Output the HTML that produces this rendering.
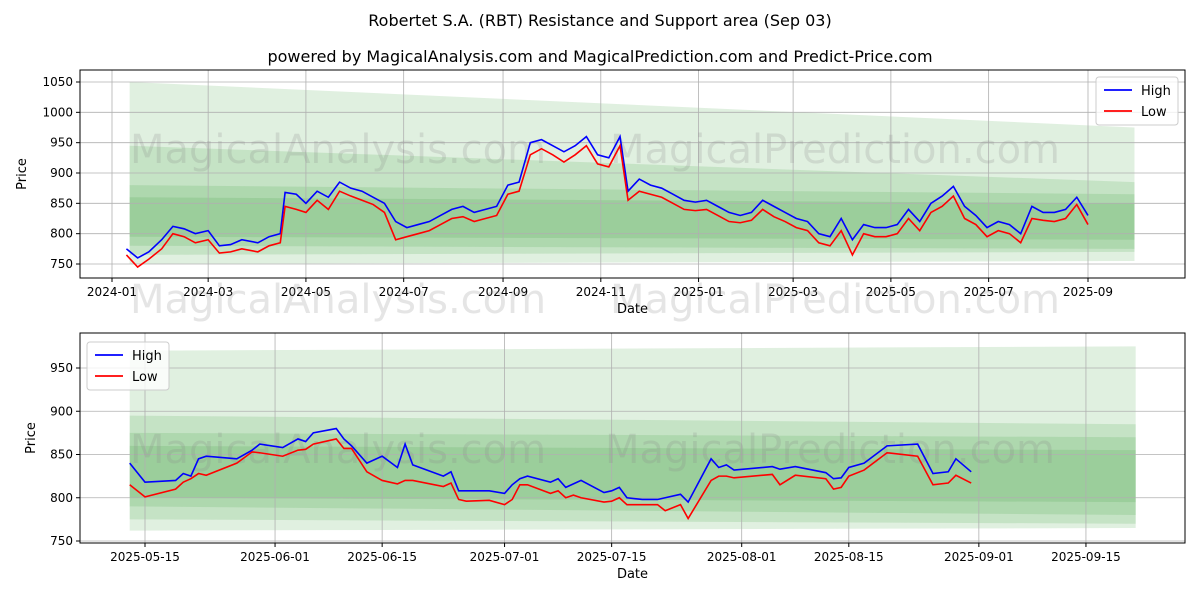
<!DOCTYPE html>
<html><head><meta charset="utf-8"><style>
body{margin:0;background:#fff;font-family:"Liberation Sans","DejaVu Sans",sans-serif}
svg text{font-family:"DejaVu Sans","Liberation Sans",sans-serif}
</style></head><body>
<svg id="c" width="1200" height="600" xmlns="http://www.w3.org/2000/svg">
<rect width="1200" height="600" fill="#fff"/>
<text x="600" y="26" text-anchor="middle" font-size="16">Robertet S.A. (RBT) Resistance and Support area (Sep 03)</text>
<text x="600" y="62" text-anchor="middle" font-size="16">powered by MagicalAnalysis.com and MagicalPrediction.com and Predict-Price.com</text>
<g id="top"></g>
<g id="bot"></g>
</svg>
<script>
// ---- top chart data ----
const topDates=["2024-01-10","2024-01-17","2024-01-24","2024-02-01","2024-02-08","2024-02-15","2024-02-22","2024-03-01","2024-03-08","2024-03-15","2024-03-22","2024-04-01","2024-04-08","2024-04-15","2024-04-18","2024-04-25","2024-05-01","2024-05-08","2024-05-15","2024-05-22","2024-05-29","2024-06-05","2024-06-12","2024-06-19","2024-06-26","2024-07-03","2024-07-10","2024-07-17","2024-07-24","2024-07-31","2024-08-07","2024-08-14","2024-08-21","2024-08-28","2024-09-04","2024-09-11","2024-09-18","2024-09-25","2024-10-02","2024-10-09","2024-10-16","2024-10-23","2024-10-30","2024-11-06","2024-11-13","2024-11-18","2024-11-25","2024-12-02","2024-12-09","2024-12-16","2024-12-23","2024-12-30","2025-01-06","2025-01-13","2025-01-20","2025-01-27","2025-02-03","2025-02-10","2025-02-17","2025-02-24","2025-03-03","2025-03-10","2025-03-17","2025-03-24","2025-03-31","2025-04-07","2025-04-14","2025-04-21","2025-04-28","2025-05-05","2025-05-12","2025-05-19","2025-05-26","2025-06-02","2025-06-09","2025-06-16","2025-06-23","2025-06-30","2025-07-07","2025-07-14","2025-07-21","2025-07-28","2025-08-04","2025-08-11","2025-08-18","2025-08-25","2025-09-01"];
const topHigh=[775,760,770,790,812,808,800,805,780,782,790,785,795,800,868,865,850,870,860,885,875,870,860,850,820,810,815,820,830,840,845,835,840,845,880,885,950,955,945,935,945,960,930,925,960,870,890,880,875,865,855,852,855,845,835,830,835,855,845,835,825,820,800,795,825,790,815,810,810,815,840,820,850,862,878,845,830,810,820,815,800,845,835,835,840,860,830];
const topLow=[765,745,758,775,800,795,785,790,768,770,775,770,780,785,845,840,835,855,840,870,862,855,848,835,790,795,800,805,815,825,828,820,825,830,865,870,930,940,930,918,930,945,915,910,945,855,870,865,860,850,840,838,840,830,820,818,822,840,828,820,810,805,785,780,805,765,800,795,795,800,825,805,835,845,862,825,815,795,805,800,785,825,822,820,825,848,815];
const topTicks=["2024-01","2024-03","2024-05","2024-07","2024-09","2024-11","2025-01","2025-03","2025-05","2025-07","2025-09"];
const topYTicks=[750,800,850,900,950,1000,1050];
const topBandTop=[1050,945,880,860];
const topBandTopEnd=[975,885,865,850];
const topBandBot=[750,765,780,795];
const topBandBotEnd=[755,770,775,790];
// ---- bottom chart data ----
const botDayOffsets=[-2,0,4,5,6,7,8,12,14,15,18,20,21,22,25,26,27,29,31,33,34,35,39,40,41,42,45,47,48,49,50,53,54,55,56,57,60,61,62,63,65,67,68,70,71,74,75,76,77,82,83,85,89,90,91,92,94,97,101,103,105,106,108];
const botHigh=[840,818,820,828,825,845,848,845,855,862,858,868,865,875,880,868,860,840,848,835,862,838,825,830,808,808,808,805,815,822,825,818,822,812,816,820,806,808,812,800,798,798,800,804,795,845,835,838,832,836,833,836,829,822,823,835,840,860,862,828,830,845,830];
const botLow=[815,801,810,818,822,828,826,840,853,852,848,855,856,862,868,857,857,830,820,816,820,820,813,817,798,796,797,792,798,815,815,805,808,800,803,800,795,796,800,792,792,792,785,792,776,820,825,825,823,827,815,826,822,810,812,825,832,852,848,815,817,826,817];
const botTicks=["2025-05-15","2025-06-01","2025-06-15","2025-07-01","2025-07-15","2025-08-01","2025-08-15","2025-09-01","2025-09-15"];
const botYTicks=[750,800,850,900,950];
const botBandTop=[970,895,875,860];
const botBandTopEnd=[975,885,870,855];
const botBandBot=[762,775,790,800];
const botBandBotEnd=[765,770,780,795];

const NS="http://www.w3.org/2000/svg";
function mk(p,t,a){const e=document.createElementNS(NS,t);for(const k in a)e.setAttribute(k,a[k]);p.appendChild(e);return e;}
const day=s=>Date.parse(s)/86400000;

function drawChart(g,o){
  const {L,R,T,B,x,y,xt,xtl,yt,bands,dates,hi,lo,legendX,legendY}=o;
  const [bt,bte,bb,bbe]=bands;const x0=o.bandX0,x1=o.bandX1;
  for(let i=0;i<bt.length;i++){
    const p=mk(g,"polygon",{points:`${x0},${y(bt[i])} ${x1},${y(bte[i])} ${x1},${y(bbe[i])} ${x0},${y(bb[i])}`,fill:"#2e9a2e","fill-opacity":0.15});
    
    
  }
  xt.forEach((t,i)=>{const X=x(t);mk(g,"line",{x1:X,x2:X,y1:T,y2:B,stroke:"#b0b0b0","stroke-width":0.8});
    mk(g,"line",{x1:X,x2:X,y1:B,y2:B+4,stroke:"#000"});
    const tx=mk(g,"text",{x:X,y:B+18,"text-anchor":"middle","font-size":12});tx.textContent=xtl[i];
    
    });
  yt.forEach(v=>{const Y=y(v);mk(g,"line",{x1:L,x2:R,y1:Y,y2:Y,stroke:"#b0b0b0","stroke-width":0.8});
    mk(g,"line",{x1:L-4,x2:L,y1:Y,y2:Y,stroke:"#000"});
    const tx=mk(g,"text",{x:L-7,y:Y+4,"text-anchor":"end","font-size":12});tx.textContent=v;
    
    });
  o.wm.forEach(w=>{const t=mk(g,"text",{x:w[0],y:w[1],"font-size":40,fill:"#888","fill-opacity":0.22});t.textContent=w[2];
    
    });
  const ln=(arr,c,n)=>{const p=mk(g,"polyline",{points:dates.map((d,i)=>x(d)+","+y(arr[i])).join(" "),fill:"none",stroke:c,"stroke-width":1.6});
    
    };
  ln(hi,"#0000ff","high-line");ln(lo,"#ff0000","low-line");
  mk(g,"rect",{x:L,y:T,width:R-L,height:B-T,fill:"none",stroke:"#000","stroke-width":1});
  const xl=mk(g,"text",{x:(L+R)/2,y:B+35,"text-anchor":"middle","font-size":13});xl.textContent="Date";
  
  const yl=mk(g,"text",{x:0,y:0,"text-anchor":"middle","font-size":13,transform:`translate(${o.ylx},${(T+B)/2}) rotate(-90)`});yl.textContent="Price";
  
  const lg=mk(g,"g",{});
  
  mk(lg,"rect",{x:legendX,y:legendY,width:82,height:48,rx:3,fill:"#fff","fill-opacity":0.8,stroke:"#ccc"});
  [["High","#0000ff"],["Low","#ff0000"]].forEach((e,i)=>{const yy=legendY+13+i*21;
    mk(lg,"line",{x1:legendX+8,x2:legendX+36,y1:yy,y2:yy,stroke:e[1],"stroke-width":1.8});
    const t=mk(lg,"text",{x:legendX+45,y:yy+5,"font-size":13});t.textContent=e[0];
    });
}
const tX0=day("2024-01-01"),tX1=day("2025-09-01");
const tx=d=>112+(day(d)-tX0)*(1088-112)/(tX1-tX0);
const ty=v=>264-(v-750)*182/300;
drawChart(document.getElementById("top"),{L:80,R:1185,T:70,B:278,x:tx,y:ty,xt:topTicks.map(t=>t+"-01"),xtl:topTicks,yt:topYTicks,
  bands:[topBandTop,topBandTopEnd,topBandBot,topBandBotEnd],bandX0:tx("2024-01-12"),bandX1:tx("2025-09-30"),
  dates:topDates,hi:topHigh,lo:topLow,legendX:1096,legendY:77,ylx:26,
  wm:[[130,163,"MagicalAnalysis.com"],[610,163,"MagicalPrediction.com"],[130,313,"MagicalAnalysis.com"],[610,313,"MagicalPrediction.com"]]});
const bBase=day("2025-05-15");
const bx=d=>145+(day(d)-bBase)*7.65;
const bxo=o=>145+o*7.65;
const by=v=>541-(v-750)*173/200;
const botDates=botDayOffsets.map(o=>new Date((bBase+o)*86400000).toISOString().slice(0,10));
drawChart(document.getElementById("bot"),{L:80,R:1185,T:333,B:543,x:bx,y:by,xt:botTicks,xtl:botTicks,yt:botYTicks,
  bands:[botBandTop,botBandTopEnd,botBandBot,botBandBotEnd],bandX0:bxo(-2),bandX1:bxo(129.5),
  dates:botDates,hi:botHigh,lo:botLow,legendX:87,legendY:342,ylx:35,
  wm:[[130,463,"MagicalAnalysis.com"],[605,463,"MagicalPrediction.com"]]});
</script>
</body></html>
